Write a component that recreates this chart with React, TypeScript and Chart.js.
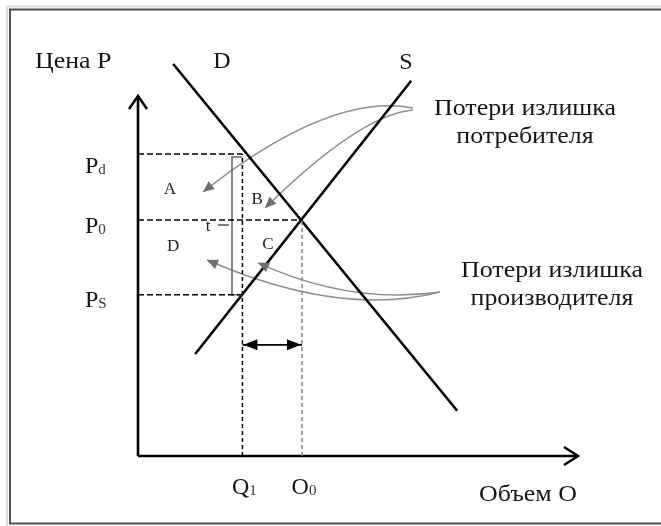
import React, { useEffect, useRef } from 'react';
import { Chart, registerables } from 'chart.js';

Chart.register(...registerables);

// ---- data (diagram units: quantity on x, price on y) ----
const demandLine = [
  { x: 0.88, y: 9.8 },
  { x: 7.98, y: 1.13 },
];
const supplyLine = [
  { x: 1.43, y: 2.55 },
  { x: 6.83, y: 9.38 },
];
const quantityValues = [2.61, 4.1]; // Q1, Q0
const quantityLabels = [
  ['Q', '1'],
  ['O', '0'],
];
const priceValues = [7.55, 5.9, 4.03]; // Pd, P0, Ps
const priceLabels = [
  ['P', 'd'],
  ['P', '0'],
  ['P', 'S'],
];
const axisEnd = { x: 11, y: 9 };
const taxBracketX = 2.35;
const taxTick = [
  { x: 2.0, y: 5.775 },
  { x: 2.275, y: 5.775 },
];
const quantityGapY = 2.78;

const consumerLossArrows = [
  { from: { x: 6.875, y: 8.7 }, via: { x: 4.8, y: 9.1 }, to: { x: 1.625, y: 6.6 } },
  { from: { x: 6.875, y: 8.65 }, via: { x: 5.55, y: 8.53 }, to: { x: 3.175, y: 6.2 } },
];
const producerLossArrows = [
  { from: { x: 7.55, y: 4.1 }, via: { x: 5.05, y: 3.45 }, to: { x: 1.725, y: 4.9 } },
  { from: { x: 7.55, y: 4.1 }, via: { x: 5.3, y: 3.78 }, to: { x: 3.0, y: 4.83 } },
];

const regionLabels = ['A', 'B', 'C', 'D', 't'];
const regionAnchors = [
  { x: 0.8, y: 6.65 },
  { x: 2.98, y: 6.4 },
  { x: 3.25, y: 5.28 },
  { x: 0.88, y: 5.23 },
  { x: 1.75, y: 5.73 },
];
const curveNames = ['D', 'S'];
const curveNameAnchors = [
  { x: 2.1, y: 9.7 },
  { x: 6.7, y: 9.675 },
];
const axisTitles = ['Цена P', 'Объем О'];
const axisTitleAnchors = [
  { x: -2.575, y: 9.7 },
  { x: 9.75, y: -1.125 },
];
const consumerNote = ['Потери излишка', 'потребителя'];
const consumerNoteAnchors = [
  { x: 9.675, y: 8.525 },
  { x: 9.675, y: 7.825 },
];
const producerNote = ['Потери излишка', 'производителя'];
const producerNoteAnchors = [
  { x: 10.35, y: 4.475 },
  { x: 10.35, y: 3.775 },
];
const priceLabelX = -1.325;
const quantityLabelY = -0.95;

// ---- styles ----
const SERIF = '"Liberation Serif", "Times New Roman", serif';
const TEXT = '#161616';
const GREY_CURVE = '#8e8e8e';
const GREY_HEAD = '#6f6f6f';
const BIG = 24;
const STRETCH = 1.08;

const lineDs = (data: any[], color: string, width: number, dash: number[] = []) => ({
  data,
  showLine: true,
  borderColor: color,
  backgroundColor: color,
  borderWidth: width,
  borderDash: dash,
  pointRadius: 0,
  pointHoverRadius: 0,
  fill: false,
  tension: 0,
  clip: false as any,
  borderCapStyle: 'butt' as const,
});

function drawText(
  ctx: CanvasRenderingContext2D,
  s: string,
  x: number,
  y: number,
  size: number,
  align: CanvasTextAlign = 'left',
  baseline: CanvasTextBaseline = 'alphabetic',
  color = TEXT,
  sx = 1
) {
  ctx.save();
  ctx.font = `${size}px ${SERIF}`;
  ctx.fillStyle = color;
  ctx.textAlign = align;
  ctx.textBaseline = baseline;
  ctx.translate(x, y);
  ctx.scale(sx, 1);
  ctx.fillText(s, 0, 0);
  ctx.restore();
}

function drawSubLabel(
  ctx: CanvasRenderingContext2D,
  main: string,
  sub: string,
  x: number,
  y: number,
  align: 'left' | 'center'
) {
  ctx.save();
  ctx.font = `${BIG}px ${SERIF}`;
  const wMain = ctx.measureText(main).width;
  ctx.font = `15px ${SERIF}`;
  const wSub = ctx.measureText(sub).width;
  const left = align === 'center' ? x - (wMain + wSub) / 2 : x;
  ctx.restore();
  drawText(ctx, main, left, y, BIG);
  drawText(ctx, sub, left + wMain, y + 1, 15, 'left', 'alphabetic', '#333');
}

function filledHead(
  ctx: CanvasRenderingContext2D,
  tipX: number,
  tipY: number,
  dx: number,
  dy: number,
  len: number,
  half: number,
  color: string
) {
  const n = Math.hypot(dx, dy) || 1;
  const ux = dx / n;
  const uy = dy / n;
  const bx = tipX - ux * len;
  const by = tipY - uy * len;
  ctx.save();
  ctx.fillStyle = color;
  ctx.beginPath();
  ctx.moveTo(tipX, tipY);
  ctx.lineTo(bx - uy * half, by + ux * half);
  ctx.lineTo(bx + uy * half, by - ux * half);
  ctx.closePath();
  ctx.fill();
  ctx.restore();
}

const diagramPlugin = {
  id: 'diagram',
  beforeDraw(chart: any) {
    const ctx: CanvasRenderingContext2D = chart.ctx;
    ctx.save();
    ctx.fillStyle = '#ffffff';
    ctx.fillRect(0, 0, chart.width, chart.height);
    ctx.strokeStyle = '#e2dada';
    ctx.lineWidth = 2;
    ctx.strokeRect(7, 6.5, chart.width + 20, chart.height);
    ctx.strokeStyle = '#574d4d';
    ctx.lineWidth = 2;
    ctx.strokeRect(10, 9.5, chart.width + 20, 514);
    ctx.restore();
  },
  beforeDatasetsDraw(chart: any) {
    const ctx: CanvasRenderingContext2D = chart.ctx;
    const X = (v: number) => chart.scales.x.getPixelForValue(v);
    const Y = (v: number) => chart.scales.y.getPixelForValue(v);
    ctx.save();
    ctx.strokeStyle = GREY_CURVE;
    ctx.lineWidth = 1.4;
    [...consumerLossArrows, ...producerLossArrows].forEach((a) => {
      ctx.beginPath();
      ctx.moveTo(X(a.from.x), Y(a.from.y));
      ctx.quadraticCurveTo(X(a.via.x), Y(a.via.y), X(a.to.x), Y(a.to.y));
      ctx.stroke();
    });
    ctx.restore();
  },
  afterDatasetsDraw(chart: any) {
    const ctx: CanvasRenderingContext2D = chart.ctx;
    const X = (v: number) => chart.scales.x.getPixelForValue(v);
    const Y = (v: number) => chart.scales.y.getPixelForValue(v);

    // curve arrow heads
    [...consumerLossArrows, ...producerLossArrows].forEach((a) => {
      const tx = X(a.to.x);
      const ty = Y(a.to.y);
      filledHead(ctx, tx, ty, tx - X(a.via.x), ty - Y(a.via.y), 11, 5, GREY_HEAD);
    });

    // axis arrow heads (open chevrons)
    ctx.save();
    ctx.strokeStyle = '#000';
    ctx.lineWidth = 2.5;
    ctx.lineJoin = 'miter';
    const yTipX = X(0);
    const yTipY = Y(axisEnd.y);
    ctx.beginPath();
    ctx.moveTo(yTipX - 9, yTipY + 13);
    ctx.lineTo(yTipX, yTipY);
    ctx.lineTo(yTipX + 9, yTipY + 13);
    ctx.stroke();
    const xTipX = X(axisEnd.x);
    const xTipY = Y(0);
    ctx.beginPath();
    ctx.moveTo(xTipX - 14, xTipY - 9);
    ctx.lineTo(xTipX, xTipY);
    ctx.lineTo(xTipX - 14, xTipY + 9);
    ctx.stroke();
    ctx.restore();

    // double arrow heads between Q1 and Q0
    const gy = Y(quantityGapY);
    filledHead(ctx, X(quantityValues[0]) + 1, gy, -1, 0, 14, 5.5, '#000');
    filledHead(ctx, X(quantityValues[1]) - 1, gy, 1, 0, 14, 5.5, '#000');

    // price labels
    const priceShift = [19, 13, 12];
    priceValues.forEach((p, i) => {
      drawSubLabel(ctx, priceLabels[i][0], priceLabels[i][1], X(priceLabelX), Y(p) + priceShift[i], 'left');
    });
    // quantity labels
    quantityValues.forEach((q, i) => {
      drawSubLabel(ctx, quantityLabels[i][0], quantityLabels[i][1], X(q) + 2, Y(quantityLabelY), 'center');
    });

    // axis titles
    drawText(ctx, axisTitles[0], X(axisTitleAnchors[0].x), Y(axisTitleAnchors[0].y), BIG, 'left', 'alphabetic', TEXT, STRETCH);
    drawText(ctx, axisTitles[1], X(axisTitleAnchors[1].x), Y(axisTitleAnchors[1].y), BIG, 'center', 'alphabetic', TEXT, STRETCH);

    // curve names
    curveNames.forEach((n, i) => {
      drawText(ctx, n, X(curveNameAnchors[i].x), Y(curveNameAnchors[i].y), BIG, 'center');
    });

    // region labels
    regionLabels.forEach((n, i) => {
      drawText(ctx, n, X(regionAnchors[i].x), Y(regionAnchors[i].y), 17, 'center', 'middle', '#222');
    });

    // notes
    consumerNote.forEach((s, i) => {
      drawText(ctx, s, X(consumerNoteAnchors[i].x), Y(consumerNoteAnchors[i].y), BIG, 'center', 'alphabetic', TEXT, STRETCH);
    });
    producerNote.forEach((s, i) => {
      drawText(ctx, s, X(producerNoteAnchors[i].x), Y(producerNoteAnchors[i].y), BIG, 'center', 'alphabetic', TEXT, STRETCH);
    });
  },
};

export default function App() {
  const canvasRef = useRef<HTMLCanvasElement | null>(null);

  useEffect(() => {
    const canvas = canvasRef.current;
    if (!canvas) return;
    const [q1, q0] = quantityValues;
    const [pd, p0, ps] = priceValues;
    const chart = new Chart(canvas, {
      type: 'scatter',
      data: {
        datasets: [
          lineDs([{ x: 0, y: pd }, { x: q1, y: pd }], '#000', 1.5, [6, 3]),
          lineDs([{ x: 0, y: p0 }, { x: q0, y: p0 }], '#000', 1.5, [6, 3]),
          lineDs([{ x: 0, y: ps }, { x: q1, y: ps }], '#000', 1.5, [6, 3]),
          lineDs([{ x: q1, y: 0 }, { x: q1, y: pd }], '#000', 1.5, [4, 3]),
          lineDs([{ x: q0, y: 0 }, { x: q0, y: p0 }], '#8a8a8a', 1.5, [4, 3]),
          lineDs(
            [
              { x: q1, y: pd - 0.075 },
              { x: taxBracketX, y: pd - 0.075 },
              { x: taxBracketX, y: ps },
              { x: q1, y: ps },
            ],
            '#6a6a6a',
            1.6
          ),
          lineDs(taxTick, '#333', 1.3),
          lineDs([{ x: q1, y: quantityGapY }, { x: q0, y: quantityGapY }], '#000', 1.8),
          lineDs(demandLine, '#000', 2.6),
          lineDs(supplyLine, '#000', 2.6),
          lineDs([{ x: 0, y: 0 }, { x: 0, y: axisEnd.y }], '#000', 2.6),
          lineDs([{ x: 0, y: 0 }, { x: axisEnd.x, y: 0 }], '#000', 2.6),
        ],
      },
      options: {
        animation: false,
        responsive: false,
        devicePixelRatio: 1,
        events: [],
        layout: { padding: { left: 138, right: 83, top: 56, bottom: 70 } },
        scales: {
          x: { type: 'linear', min: 0, max: axisEnd.x, display: false },
          y: { type: 'linear', min: 0, max: 10, display: false },
        },
        plugins: {
          legend: { display: false },
          tooltip: { enabled: false },
          title: { display: false },
        },
      },
      plugins: [diagramPlugin],
    });
    return () => chart.destroy();
  }, []);

  return (
    <canvas
      ref={canvasRef}
      width={661}
      height={526}
      style={{ position: 'absolute', left: 0, top: 0, display: 'block', width: 661, height: 526 }}
    />
  );
}
